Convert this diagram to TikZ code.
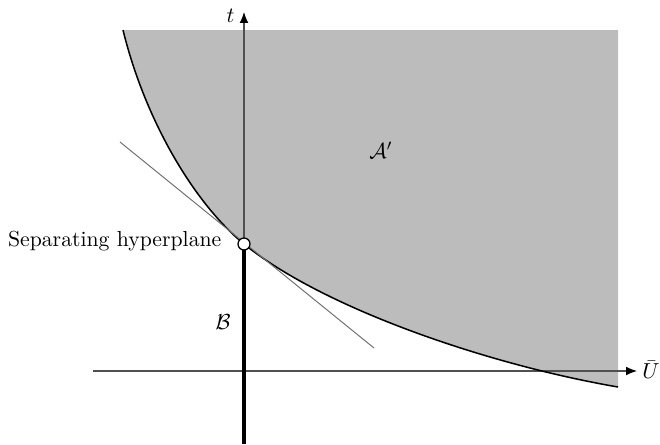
\documentclass[tikz,border=0pt]{standalone}
\usepackage{amsmath,amssymb}
\usepackage{xcolor}
\usepackage{tikz}
\usetikzlibrary{arrows.meta,positioning,calc}
\definecolor{cShade}{HTML}{BCBCBC}
\definecolor{cAxis}{HTML}{505050}
\definecolor{cTan}{HTML}{707070}
\tikzset{
  axis/.style={-{Latex[length=5pt,width=4pt,color=black]},line width=0.5pt,color=cAxis},
  bound/.style={line width=0.7pt,color=black},
  tanl/.style={line width=0.45pt,color=cTan},
  bset/.style={line width=2pt,color=black},
  dot/.style={circle,draw=black,fill=white,line width=0.6pt,inner sep=0pt,minimum size=5.5pt},
  lab/.style={font=\normalsize,text=black,inner sep=1pt},
}

\begin{document}
\begin{tikzpicture}[x=0.46pt,y=-0.46pt]
    \useasboundingbox (0,0) rectangle (660,444);
    % set A' and its boundary
    \coordinate (top) at (123,30);
    \coordinate (p) at (244,244);
    \coordinate (low) at (618,387);
    \fill[cShade] (top) .. controls (145,120) and (194,203) .. (p)
        .. controls (324,309) and (490,365) .. (low) -- (618,30) -- cycle;
    % axes
    \coordinate (xs) at (93,371); \coordinate (xe) at (637,371);
    \coordinate (ye) at (244,12);
    \draw[axis] (xs) -- (xe);
    \draw[axis] (p) -- (ye);
    \draw[bound] (top) .. controls (145,120) and (194,203) .. (p)
        .. controls (324,309) and (490,365) .. (low);
    % hyperplane
    \coordinate (h1) at (120,142); \coordinate (h2) at (374,348);
    \draw[tanl] (h1) -- (h2);
    % set B
    \coordinate (bb) at (244,444);
    \draw[bset] (p) -- (bb);
    \node[dot] (pt) at (p) {};
    \node[lab,anchor=east] (sep) at (224,241) {Separating hyperplane};
    \node[lab] (la) at (381,150) {$\mathcal{A}'$};
    \node[lab] (lb) at (223,322) {$\mathcal{B}$};
    \node[lab,anchor=east] (lt) at (237,16) {$t$};
    \node[lab,anchor=west,inner sep=0pt] (lu) at (642,370) {$\bar{U}$};
  \end{tikzpicture}
\end{document}
